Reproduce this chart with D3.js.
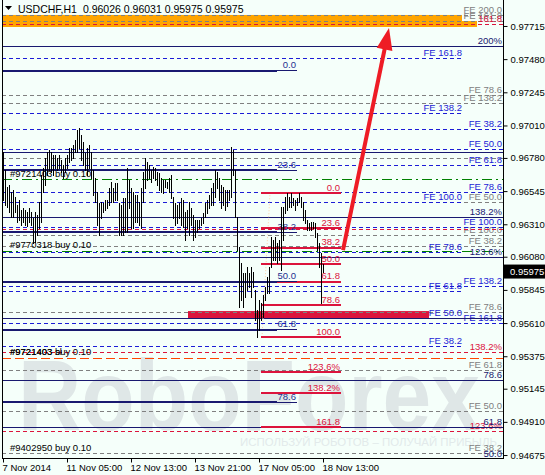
<!DOCTYPE html>
<html><head><meta charset="utf-8">
<script src="https://cdn.jsdelivr.net/npm/d3@7"></script>
<style>body{margin:0;background:#F5FFFA}svg{display:block}</style>
</head><body><svg id="c" width="545" height="475"></svg>
<script>
// ---------------- DATA ----------------
const symbolName = "USDCHF,H1";
const headerOHLC = [0.96026, 0.96031, 0.95975, 0.95975];
const lastPrice = 0.95975;
const timeTickBars = [0, 32, 64, 96, 128, 160];
const timeLabels = ["7 Nov 2014", "11 Nov 05:00", "12 Nov 13:00", "13 Nov 21:00", "17 Nov 05:00", "18 Nov 13:00"];
const priceTicks = [0.97715, 0.97480, 0.97245, 0.97010, 0.96780, 0.96545, 0.96310, 0.96080, 0.95845, 0.95610, 0.95375, 0.95145, 0.94910, 0.94675];

// H1 bar highs / lows (bar index 0..160)
const highs = [
0.96822,0.96694,0.96574,0.96588,0.96538,0.96553,0.96503,0.96446,0.96482,0.96411,
0.96425,0.96411,0.96397,0.96425,0.96397,0.96354,0.96397,0.96375,0.96468,0.96659,
0.96709,0.96779,0.96822,0.96836,0.96822,0.96801,0.96801,0.96779,0.96801,0.96765,
0.96730,0.96779,0.96801,0.96850,0.96850,0.96872,0.96907,0.96978,0.96992,0.96942,
0.96893,0.96815,0.96850,0.96872,0.96822,0.96694,0.96638,0.96538,0.96461,0.96468,
0.96461,0.96482,0.96482,0.96567,0.96609,0.96567,0.96602,0.96602,0.96461,0.96446,
0.96496,0.96496,0.96709,0.96624,0.96567,0.96538,0.96517,0.96517,0.96468,0.96567,
0.96680,0.96779,0.96751,0.96730,0.96694,0.96716,0.96709,0.96680,0.96673,0.96638,
0.96624,0.96624,0.96609,0.96638,0.96659,0.96503,0.96461,0.96446,0.96461,0.96496,
0.96482,0.96397,0.96411,0.96468,0.96425,0.96375,0.96340,0.96340,0.96340,0.96354,
0.96390,0.96461,0.96482,0.96517,0.96567,0.96602,0.96694,0.96680,0.96638,0.96588,
0.96574,0.96553,0.96553,0.96553,0.96857,0.96836,0.96694,0.96361,0.96149,0.96035,
0.95965,0.95965,0.96007,0.95965,0.96007,0.95972,0.95844,0.95702,0.95773,0.95752,
0.95809,0.95865,0.95936,0.96007,0.96220,0.96198,0.96220,0.96177,0.96198,0.96432,
0.96432,0.96503,0.96531,0.96503,0.96531,0.96496,0.96482,0.96496,0.96531,0.96503,
0.96468,0.96411,0.96340,0.96319,0.96326,0.96326,0.96319,0.96248,0.96177,0.96106,
0.96031];
const lows = [
0.96482,0.96446,0.96432,0.96397,0.96361,0.96361,0.96397,0.96326,0.96340,0.96305,
0.96326,0.96305,0.96298,0.96326,0.96305,0.96177,0.96184,0.96234,0.96283,0.96326,
0.96538,0.96588,0.96659,0.96694,0.96680,0.96659,0.96709,0.96694,0.96709,0.96680,
0.96638,0.96680,0.96709,0.96751,0.96765,0.96779,0.96822,0.96822,0.96850,0.96765,
0.96730,0.96694,0.96659,0.96709,0.96638,0.96517,0.96468,0.96305,0.96234,0.96354,
0.96397,0.96411,0.96425,0.96446,0.96468,0.96468,0.96482,0.96482,0.96234,0.96234,
0.96234,0.96255,0.96255,0.96425,0.96283,0.96283,0.96326,0.96326,0.96305,0.96283,
0.96468,0.96567,0.96624,0.96638,0.96609,0.96638,0.96624,0.96588,0.96553,0.96538,
0.96531,0.96574,0.96567,0.96538,0.96496,0.96354,0.96305,0.96319,0.96354,0.96305,
0.96290,0.96198,0.96283,0.96234,0.96305,0.96198,0.96220,0.96255,0.96283,0.96305,
0.96319,0.96361,0.96390,0.96425,0.96446,0.96446,0.96503,0.96567,0.96482,0.96425,
0.96446,0.96411,0.96439,0.96482,0.96503,0.96659,0.96361,0.96127,0.95724,0.95773,
0.95724,0.95794,0.95844,0.95865,0.95794,0.95865,0.95631,0.95511,0.95561,0.95631,
0.95653,0.95773,0.95823,0.95823,0.96007,0.96057,0.96057,0.96035,0.96057,0.95986,
0.96198,0.96390,0.96411,0.96432,0.96432,0.96446,0.96411,0.96446,0.96468,0.96432,
0.96340,0.96319,0.96269,0.96269,0.96269,0.96283,0.96220,0.96127,0.96007,0.95752,
0.95975];

// Fibonacci retracement (navy, left)
const navyFibLevels = [0.97396, 0.96694, 0.96255, 0.95901, 0.95561, 0.95050];
const navyFibLabels = ["0.0", "23.6", "38.2", "50.0", "61.8", "78.6"];
// Fibonacci retracement (crimson, right of price)
const redFibLevels = [0.96531, 0.96283, 0.96142, 0.96028, 0.95901, 0.95738, 0.95511, 0.95263, 0.95114, 0.94873];
const redFibLabels = ["0.0", "23.6", "38.2", "50.0", "61.8", "78.6", "100.0", "123.6%", "138.2%", "161.8"];
const redFibTrend = [[129.5, 0.95511], [133.5, 0.96531]];
// Fibonacci expansion (navy, thin)
const navyExpLevels = [0.97566, 0.96822, 0.96361, 0.96078, 0.95639, 0.95206, 0.94873, 0.94646];
const navyExpLabels = ["200%", "", "138.2%", "123.6%", "", "78.6", "61.8", "50.0"];
// Fibonacci expansion (crimson dashed)
const redExpLevels = [0.97722, 0.96276, 0.95398, 0.94845];
const redExpLabels = ["161.8", "", "138.2%", "123.6%"];
// FE blue, set A (to right edge)
const blueALevels = [0.96985, 0.96843, 0.96723, 0.96538, 0.96290, 0.95872, 0.95610];
const blueALabels = ["FE 38.2", "FE 50.0", "FE 61.8", "FE 78.6", "FE 100.0", "FE 138.2", "FE 161.8"];
// FE blue, set B
const blueBLevels = [0.97481, 0.97098, 0.96461, 0.96113, 0.95837, 0.95639, 0.95447];
const blueBLabels = ["FE 161.8", "FE 138.2", "FE 100.0", "FE 78.6", "FE 61.8", "FE 50.0", "FE 38.2"];
// FE gray
const grayLevels = [0.97789, 0.97750, 0.97219, 0.97169, 0.96779, 0.96461, 0.96227, 0.96156, 0.95688, 0.95277, 0.94987, 0.94689];
const grayLabels = ["FE 200.0", "FE 161.8", "FE 78.6", "FE 138.2", "", "FE 50.0", "FE 100.0", "FE 38.2", "FE 78.6", "FE 61.8", "FE 50.0", "FE 38.2"];
// orders
const orderLevels = [0.96624, 0.96120];
const orderLabels = ["#9721403 buy 0.10", "#9770318 buy 0.10"];
const stopLevel = 0.95362;
const stopLabels = ["#9721403 buy 0.10", "#9721403 sl"];
const otherOrderLevel = 0.94689;
const otherOrderLabel = "#9402950 buy 0.10";
// zones
const orangeZone = [0.97708, 0.97793];
const orangeZoneBars = [-0.5, 229.5];
const orangeZoneLow = [0.97708, 0.97750];
const orangeZoneLowBars = [-0.5, 237];
const crimsonZone = [0.95646, 0.95695];
const crimsonZoneBars = [92.5, 213];
// forecast arrow
const arrowFrom = [170, 0.96127];
const arrowTo = [193, 0.97701];
const watermark = "RoboForex";
const watermarkSub = "ИСПОЛЬЗУЙ РОБОТОВ – ПОЛУЧАЙ ПРИБЫЛЬ";

// ---------------- DRAW ----------------
const font = "'Liberation Sans', Arial, sans-serif";
const svg = d3.select('#c').attr('font-family', font);
const LEFT = 2, RIGHT = 503, BOTTOM = 458;
const x = d3.scaleLinear().domain([0, 250]).range([3, 503]);
const y = d3.scaleLinear().domain([0.94654, 0.97899]).range([458, 0]);

svg.append('rect').attr('width', 545).attr('height', 475).attr('fill', '#F5FFFA');

const clip = svg.append('defs').append('clipPath').attr('id', 'plot');
clip.append('rect').attr('x', LEFT).attr('y', 0).attr('width', RIGHT - LEFT).attr('height', BOTTOM);
const plot = svg.append('g').attr('clip-path', 'url(#plot)');

// watermark
plot.append('text').attr('x', 18).attr('y', 430).attr('font-size', 100).attr('font-weight', 'bold')
  .attr('fill', '#dfe7e7').attr('textLength', 462).attr('lengthAdjust', 'spacingAndGlyphs').text(watermark);
plot.append('text').attr('x', 240).attr('y', 446).attr('font-size', 11)
  .attr('fill', '#e2eaea').attr('textLength', 257).attr('lengthAdjust', 'spacingAndGlyphs').text(watermarkSub);

// zones
function zone(pr, bars, color) {
  plot.append('rect').attr('x', x(bars[0])).attr('width', x(bars[1]) - x(bars[0]))
    .attr('y', y(pr[1])).attr('height', y(pr[0]) - y(pr[1])).attr('fill', color);
}
zone(orangeZone, orangeZoneBars, '#FFA500');
zone(orangeZoneLow, orangeZoneLowBars, '#FFA500');
zone(crimsonZone, crimsonZoneBars, '#DC143C');

function levels(vals, labels, o) {
  const g = plot.append('g');
  g.selectAll('line').data(vals).join('line')
    .attr('x1', o.x1).attr('x2', o.x2)
    .attr('y1', d => y(d)).attr('y2', d => y(d))
    .attr('stroke', o.color).attr('stroke-width', o.w || 1)
    .attr('stroke-dasharray', o.dash || null)
    .attr('shape-rendering', 'crispEdges');
  if (labels) {
    g.selectAll('text').data(vals).join('text')
      .attr('x', o.lx).attr('y', d => y(d) - 2.5)
      .attr('text-anchor', 'end').attr('font-size', 9.5)
      .attr('fill', o.lc || o.color).text((d, i) => labels[i]);
  }
  return g;
}

// dashed FE levels
levels(grayLevels, grayLabels, {x1: LEFT, x2: RIGHT, color: '#808080', dash: '4,3', lx: 502});
levels(blueBLevels, blueBLabels, {x1: LEFT, x2: x(229.5), color: '#1c1cd6', dash: '4,3', lx: x(229.5)});
levels(blueALevels, blueALabels, {x1: LEFT, x2: RIGHT, color: '#1c1cd6', dash: '4,3', lx: 502});
levels(redExpLevels, redExpLabels, {x1: LEFT, x2: RIGHT, color: '#DC143C', dash: '4,3', lx: 502});
// order lines
levels(orderLevels, null, {x1: LEFT, x2: RIGHT, color: '#008000', dash: '10,4,2,4'});
levels([stopLevel], null, {x1: LEFT, x2: RIGHT, color: '#FF4500', dash: '9,4'});
// navy expansion
levels(navyExpLevels, navyExpLabels, {x1: LEFT, x2: RIGHT, color: '#191970', lx: 502});

// crimson retracement
plot.append('line').attr('x1', x(redFibTrend[0][0])).attr('y1', y(redFibTrend[0][1]))
  .attr('x2', x(redFibTrend[1][0])).attr('y2', y(redFibTrend[1][1]))
  .attr('stroke', '#FFD2A6').attr('stroke-dasharray', '1,2');
levels(redFibLevels, redFibLabels, {x1: x(129), x2: x(169), color: '#DC143C', w: 2, lx: x(168.5)});

// navy retracement
levels(navyFibLevels, navyFibLabels, {x1: LEFT, x2: x(147), color: '#191970', w: 1, lx: x(146.5), lc: '#1f2f8f'});
levels(navyFibLevels, null, {x1: LEFT, x2: x(137), color: '#191970', w: 2});

// bars
const bars = highs.map((h, i) => ({i, h, l: lows[i]}));
plot.append('g').selectAll('line').data(bars).join('line')
  .attr('x1', d => x(d.i) + 0.5).attr('x2', d => x(d.i) + 0.5)
  .attr('y1', d => Math.round(y(d.h))).attr('y2', d => Math.round(y(d.l)) + 1)
  .attr('stroke', '#000').attr('stroke-width', 1).attr('shape-rendering', 'crispEdges');

// order labels
const ol = plot.append('g').attr('font-size', 9.5).attr('fill', '#000');
ol.selectAll('text.o').data(orderLevels).join('text').attr('class', 'o')
  .attr('x', 10).attr('y', d => y(d) - 3).text((d, i) => orderLabels[i]);
ol.selectAll('text.s').data(stopLabels).join('text').attr('class', 's')
  .attr('x', 10).attr('y', y(stopLevel) - 3).text(d => d);
ol.append('text').attr('x', 10).attr('y', y(otherOrderLevel) - 2).text(otherOrderLabel);

// arrow
const ax1 = x(arrowFrom[0]), ay1 = y(arrowFrom[1]), ax2 = x(arrowTo[0]), ay2 = y(arrowTo[1]);
const len = Math.hypot(ax2 - ax1, ay2 - ay1), ux = (ax2 - ax1) / len, uy = (ay2 - ay1) / len;
const hl = 22, hw = 8;
const bx = ax2 - ux * hl, by = ay2 - uy * hl;
plot.append('line').attr('x1', ax1).attr('y1', ay1).attr('x2', bx + ux * 2).attr('y2', by + uy * 2)
  .attr('stroke', '#EE1C25').attr('stroke-width', 4);
plot.append('polygon').attr('points', [[ax2, ay2], [bx - uy * hw, by + ux * hw], [bx + uy * hw, by - ux * hw]].map(p => p.join(',')).join(' '))
  .attr('fill', '#EE1C25');

// frame
svg.append('path').attr('d', `M${LEFT + 0.5},0V${BOTTOM + 0.5}H${RIGHT + 0.5}V0`).attr('fill', 'none')
  .attr('stroke', '#000').attr('shape-rendering', 'crispEdges');

// axes
const yAxis = svg.append('g').attr('transform', `translate(${RIGHT + 0.5},0)`)
  .call(d3.axisRight(y).tickValues(priceTicks).tickFormat(d3.format('.5f')).tickSize(4).tickPadding(3));
yAxis.select('.domain').remove();
yAxis.selectAll('text').attr('font-size', 9.5).attr('font-family', font).attr('fill', '#000');
yAxis.selectAll('line').attr('stroke', '#000');

const xAxis = svg.append('g').attr('transform', `translate(0,${BOTTOM + 0.5})`)
  .call(d3.axisBottom(x).tickValues(timeTickBars).tickFormat((d, i) => timeLabels[i]).tickSize(4).tickPadding(2));
xAxis.select('.domain').remove();
xAxis.selectAll('text').attr('text-anchor', 'start').attr('dx', -1).attr('font-size', 9.5).attr('font-family', font).attr('fill', '#000');
xAxis.selectAll('line').attr('stroke', '#000');

// last price box
svg.append('rect').attr('x', RIGHT + 1).attr('y', y(lastPrice) - 7).attr('width', 545 - RIGHT - 1).attr('height', 14).attr('fill', '#000');
svg.append('text').attr('x', RIGHT + 7).attr('y', y(lastPrice) + 3.5).attr('font-size', 9.5).attr('fill', '#fff').text(d3.format('.5f')(lastPrice));

// header
svg.append('polygon').attr('points', '5,6 12,6 8.5,10').attr('fill', '#000');
const hdr = svg.append('text').attr('x', 18).attr('y', 13).attr('font-size', 10.5).attr('fill', '#000');
hdr.append('tspan').text(symbolName);
hdr.append('tspan').attr('dx', 6).text(headerOHLC.map(d3.format('.5f')).join(' '));
</script></body></html>
